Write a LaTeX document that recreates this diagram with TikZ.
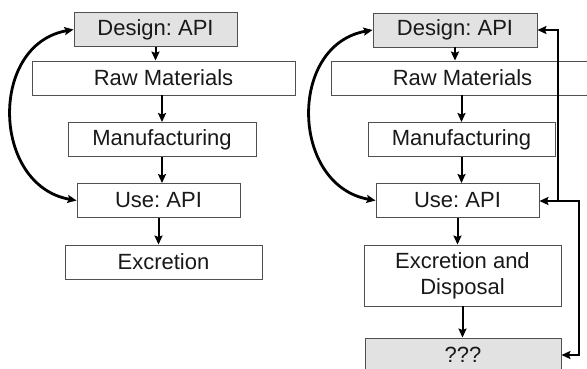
\documentclass[tikz,border=0pt]{standalone}
\usepackage{fontspec}
\setmainfont{Liberation Sans}
\frenchspacing
\usetikzlibrary{arrows.meta}
\definecolor{box_gray}{RGB}{80,80,80}
\definecolor{fill_gray}{RGB}{226,226,226}
\definecolor{text_gray}{RGB}{25,25,25}

\begin{document}
\begin{tikzpicture}[x=1pt,y=-1pt,->,>={Stealth[length=9pt,width=8pt,inset=1.5pt]},line width=2pt]
    \tikzstyle{box}=[draw=box_gray, line width=0.9pt, rectangle, minimum height=34pt, inner sep=0pt, fill=white, text=text_gray, font=\fontsize{22}{26}\selectfont]
    \tikzstyle{key}=[style=box, fill=fill_gray]
    \tikzstyle{loop}=[line width=2.8pt]

    \useasboundingbox (0,0) rectangle (587,368);

    % left: life cycle
    \node[key, minimum width=163pt] (d1) at (155.5,29.5)  {Design: API};
    \node[box, minimum width=263pt] (r1) at (163.5,78)    {Raw Materials};
    \node[box, minimum width=188pt] (m1) at (162,139.5)   {Manufacturing};
    \node[box, minimum width=163pt] (u1) at (158.5,200.5) {Use: API};
    \node[box, minimum width=197pt] (e1) at (163.5,262)   {Excretion};

    % right: life cycle with feedback
    \node[key, minimum width=164pt] (d2) at (455,30)      {Design: API};
    \node[box, minimum width=263pt] (r2) at (462.5,78)    {Raw Materials};
    \node[box, minimum width=187pt] (m2) at (461.5,139.5) {Manufacturing};
    \node[box, minimum width=163pt] (u2) at (457.5,200.5) {Use: API};
    \node[box, minimum width=197pt, minimum height=61pt, align=center] (e2) at (462.5,275.5) {Excretion and\\Disposal};
    \node[key, minimum width=196pt] (q2) at (463,355)     {???};

    \coordinate (k1) at (558,201);
    \coordinate (k2) at (579,201);

    \path
     (d1) edge (d1 |- r1.north)
     (m1 |- r1.south) edge (m1)
     (m1) edge (m1 |- u1.north)
     (u1) edge (u1 |- e1.north)
     (d2) edge (d2 |- r2.north)
     (m2 |- r2.south) edge (m2)
     (m2) edge (m2 |- u2.north)
     (u2) edge (u2 |- e2.north)
     (e2) edge (e2 |- q2.north)
     ;

    \draw[<->, loop] (d1.west) .. controls +(-85,15) and +(-85,-15) .. (u1.west);
    \draw[<->, loop] (d2.west) .. controls +(-85,15) and +(-85,-15) .. (u2.west);

    \draw (k1) |- (d2.east);
    \draw[<->] (q2.east) -| (k2) -- (k2 -| u2.east);
\end{tikzpicture}
\end{document}
